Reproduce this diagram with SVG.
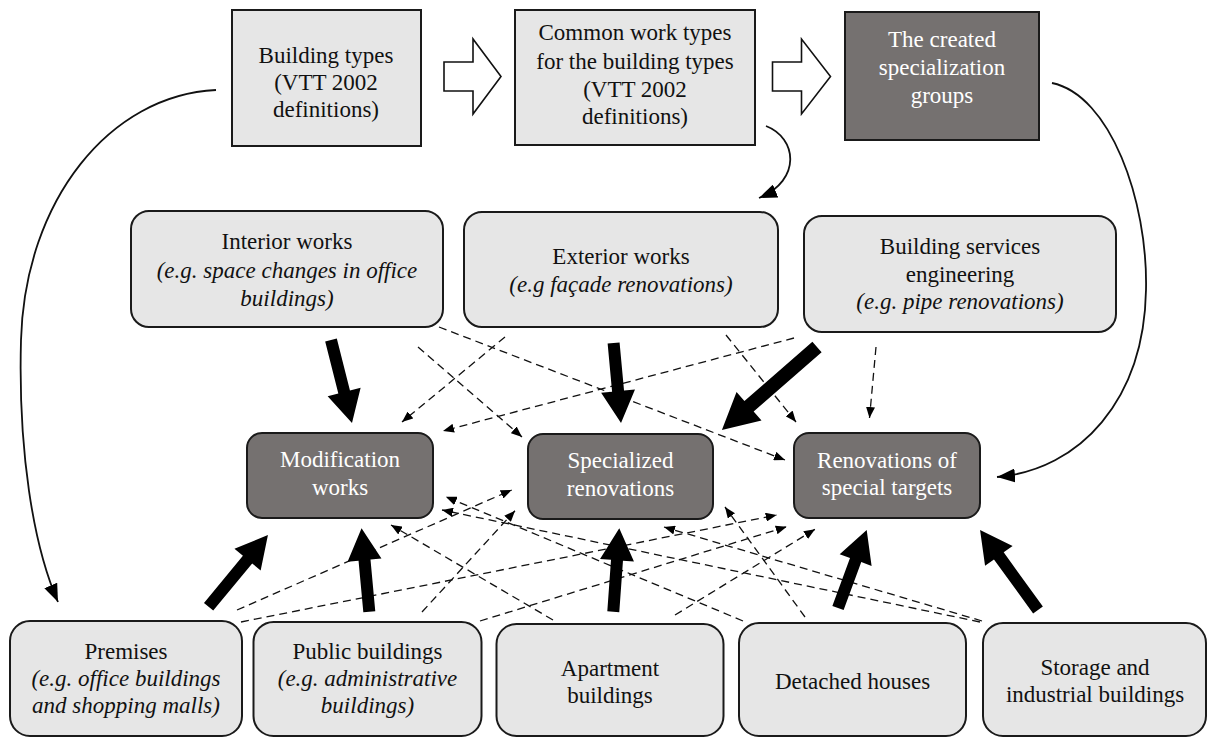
<svg xmlns="http://www.w3.org/2000/svg" width="1208" height="738" viewBox="0 0 1208 738">
<defs>
<style>
.lt{fill:#e6e6e6;stroke:#1a1a1a;stroke-width:2}
.dk{fill:#757170;stroke:#1a1a1a;stroke-width:2}
.t text{font-family:'Liberation Serif','Times New Roman',serif;font-size:23px;text-anchor:middle;fill:#111}
.t .w{fill:#ffffff}
.t .i{font-style:italic}
.dash{fill:none;stroke:#111;stroke-width:1.3;stroke-dasharray:8 5;marker-end:url(#sm)}
.curve{fill:none;stroke:#111;stroke-width:1.8;marker-end:url(#lg)}
.thick{fill:#000}
.block{fill:#fff;stroke:#111;stroke-width:1.6}
</style>
<marker id="sm" viewBox="0 0 11 9" refX="11" refY="4.5" markerWidth="11" markerHeight="9" markerUnits="userSpaceOnUse" orient="auto"><path d="M0,0 L11,4.5 L0,9 z" fill="#000"/></marker>
<marker id="lg" viewBox="0 0 18 14" refX="18" refY="7" markerWidth="18" markerHeight="14" markerUnits="userSpaceOnUse" orient="auto"><path d="M0,0 L18,7 L0,14 z" fill="#000"/></marker>
</defs>
<rect width="1208" height="738" fill="#fff"/>

<g id="connectors">
<path class="block" d="M444,62 H473 V39 L501,76.5 L473,114 V91 H444 Z"/>
<path class="block" d="M772.5,62 H801.5 V39 L830.5,76.5 L801.5,114 V91 H772.5 Z"/>
<path class="curve" d="M216,90 C 110,95 25,200 21,340 C 18,450 33,545 58,602"/>
<path class="curve" d="M1052,83 C 1110,95 1148,200 1146,290 C 1144,400 1080,470 997,477"/>
<path class="curve" d="M766,126 C 797,138 802,180 759,198"/>

<path class="dash" d="M439,327 L785,460"/>
<path class="dash" d="M418,347 L522,437"/>
<path class="dash" d="M505,337 L402,422"/>
<path class="dash" d="M794,338 L443,431"/>
<path class="dash" d="M726,335 L796,422"/>
<path class="dash" d="M876,347 L869.5,418"/>
<path class="dash" d="M237,610 L511.7,490"/>
<path class="dash" d="M241,622 L776.7,515"/>
<path class="dash" d="M422,612 L515,510.7"/>
<path class="dash" d="M480,621 L786.7,526.7"/>
<path class="dash" d="M553,620 L391,525"/>
<path class="dash" d="M675,615 L815,529.3"/>
<path class="dash" d="M743,621 L445.8,496.7"/>
<path class="dash" d="M805,617 L725,507"/>
<path class="dash" d="M980,622 L442,510"/>
<path class="dash" d="M982,621 L664,527"/>

<polygon class="thick" transform="translate(331,340) rotate(75.8)" points="0,-6 53.6,-6 53.6,-17 85.6,0 53.6,17 53.6,6 0,6"/>
<polygon class="thick" transform="translate(613.6,343) rotate(84.7)" points="0,-6 48.3,-6 48.3,-17 80.3,0 48.3,17 48.3,6 0,6"/>
<polygon class="thick" transform="translate(817,347) rotate(138.9)" points="0,-7 90.2,-7 90.2,-19 126.2,0 90.2,19 90.2,7 0,7"/>
<polygon class="thick" transform="translate(208.6,606.7) rotate(-50.4)" points="0,-6 61.1,-6 61.1,-17 93.1,0 61.1,17 61.1,6 0,6"/>
<polygon class="thick" transform="translate(369.3,611.7) rotate(-95.3)" points="0,-6 51.8,-6 51.8,-17 83.8,0 51.8,17 51.8,6 0,6"/>
<polygon class="thick" transform="translate(613.3,611.7) rotate(-85.9)" points="0,-6 51.6,-6 51.6,-17 83.6,0 51.6,17 51.6,6 0,6"/>
<polygon class="thick" transform="translate(838,608) rotate(-69.8)" points="0,-6 51.1,-6 51.1,-17 83.1,0 51.1,17 51.1,6 0,6"/>
<polygon class="thick" transform="translate(1038,610) rotate(-125.9)" points="0,-6 66.8,-6 66.8,-17 98.8,0 66.8,17 66.8,6 0,6"/>
</g>

<g class="t">
<g id="building-types">
<rect class="lt" x="232" y="10" width="189" height="136"/>
<text x="326" y="63">Building types</text>
<text x="326" y="90">(VTT 2002</text>
<text x="326" y="117">definitions)</text>
</g>
<g id="common-work-types">
<rect class="lt" x="515" y="10" width="240" height="135"/>
<text x="635" y="40">Common work types</text>
<text x="635" y="69">for the building types</text>
<text x="635" y="97">(VTT 2002</text>
<text x="635" y="124">definitions)</text>
</g>
<g id="created-groups">
<rect class="dk" x="845" y="12" width="194" height="128"/>
<text class="w" x="942" y="47">The created</text>
<text class="w" x="942" y="75">specialization</text>
<text class="w" x="942" y="103">groups</text>
</g>

<g id="interior-works">
<rect class="lt" x="131" y="211" width="312" height="116" rx="18"/>
<text x="287" y="249">Interior works</text>
<text class="i" x="287" y="278">(e.g. space changes in office</text>
<text class="i" x="287" y="306">buildings)</text>
</g>
<g id="exterior-works">
<rect class="lt" x="464" y="212" width="314" height="115" rx="18"/>
<text x="621" y="264">Exterior works</text>
<text class="i" x="621" y="292">(e.g façade renovations)</text>
</g>
<g id="building-services">
<rect class="lt" x="804" y="216" width="312" height="116" rx="18"/>
<text x="960" y="254">Building services</text>
<text x="960" y="281.5">engineering</text>
<text class="i" x="960" y="309">(e.g. pipe renovations)</text>
</g>

<g id="modification-works">
<rect class="dk" x="247" y="433" width="186" height="85" rx="15"/>
<text class="w" x="340" y="467">Modification</text>
<text class="w" x="340" y="495">works</text>
</g>
<g id="specialized-renovations">
<rect class="dk" x="528" y="434" width="185" height="85" rx="15"/>
<text class="w" x="620.5" y="468">Specialized</text>
<text class="w" x="620.5" y="496">renovations</text>
</g>
<g id="renovations-special-targets">
<rect class="dk" x="794" y="433" width="186" height="85" rx="15"/>
<text class="w" x="887" y="468">Renovations of</text>
<text class="w" x="887" y="495">special targets</text>
</g>

<g id="premises">
<rect class="lt" x="10" y="621" width="232" height="115" rx="20"/>
<text x="126" y="659">Premises</text>
<text class="i" x="126" y="686">(e.g. office buildings</text>
<text class="i" x="126" y="713">and shopping malls)</text>
</g>
<g id="public-buildings">
<rect class="lt" x="253.5" y="622" width="228" height="114" rx="20"/>
<text x="367.5" y="659">Public buildings</text>
<text class="i" x="367.5" y="686">(e.g. administrative</text>
<text class="i" x="367.5" y="713">buildings)</text>
</g>
<g id="apartment-buildings">
<rect class="lt" x="496.5" y="624" width="227" height="112" rx="20"/>
<text x="610" y="676">Apartment</text>
<text x="610" y="703">buildings</text>
</g>
<g id="detached-houses">
<rect class="lt" x="739" y="623" width="227" height="113" rx="20"/>
<text x="852.5" y="689">Detached houses</text>
</g>
<g id="storage-industrial">
<rect class="lt" x="983" y="623" width="223" height="113" rx="20"/>
<text x="1095" y="675">Storage and</text>
<text x="1095" y="702">industrial buildings</text>
</g>
</g>
</svg>
